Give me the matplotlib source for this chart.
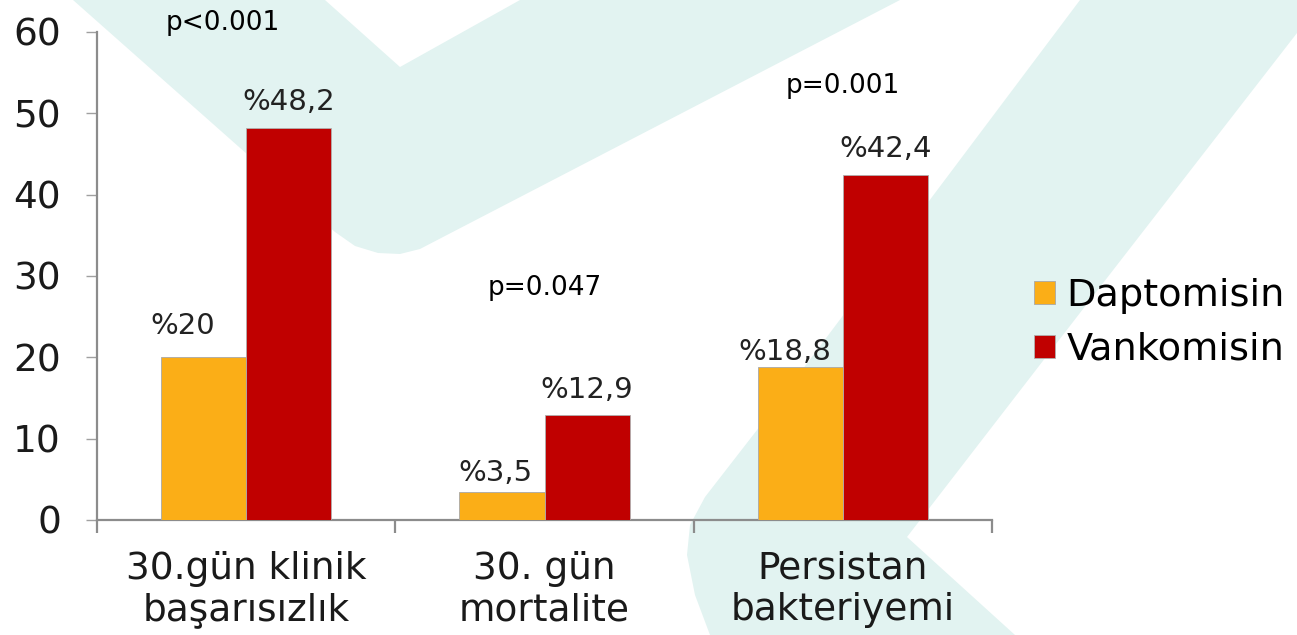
import numpy as np
import matplotlib.pyplot as plt
from matplotlib.patches import Polygon

# Veriler
kategoriler = ['30.gün klinik\nbaşarısızlık', '30. gün\nmortalite', 'Persistan\nbakteriyemi']
daptomisin = [20, 3.5, 18.8]
vankomisin = [48.2, 12.9, 42.4]
dapto_etiket = ['%20', '%3,5', '%18,8']
vanko_etiket = ['%48,2', '%12,9', '%42,4']
p_degerleri = ['p<0.001', 'p=0.047', 'p=0.001']

# p değerlerinin yerleri (veri koordinatı) ve etiket kaydırmaları (piksel)
p_konum = [(0.42, 61.1), (1.50, 28.5), (2.50, 53.3)]
dapto_kaydir = [(-21, 31), (-6, 19), (-15, 15)]
vanko_kaydir = [(0, 26), (0, 25), (0, 26)]

W, H = 1297, 635
plt.rcParams['font.family'] = ['DejaVu Sans']
fig = plt.figure(figsize=(W / 100, H / 100), dpi=100)


def px(noktalar):
    return [(x / W, 1 - y / H) for x, y in noktalar]


# arka plandaki açık turkuaz logo
zemin = '#e2f3f1'
v_sekli = [(73, 0), (335, 232), (355, 246), (378, 253), (400, 254), (420, 249),
           (445, 236), (900, 0), (520, 0), (400, 67), (325, 0)]
k_sekli = [(1080, 0), (757, 430), (705, 497), (690, 525), (687, 555), (695, 595),
           (710, 635), (1015, 635), (907, 537), (1100, 287), (1297, 33), (1297, 0)]
for s in (v_sekli, k_sekli):
    fig.patches.append(Polygon(px(s), closed=True, transform=fig.transFigure,
                               facecolor=zemin, edgecolor='none', zorder=-1))

ax = fig.add_axes([97 / W, 1 - 520 / H, (992 - 97) / W, (520 - 32) / H])
ax.set_facecolor('none')

x = np.arange(len(kategoriler)) + 0.5
w = 0.286
b1 = ax.bar(x - w / 2, daptomisin, w, color='#FBAE17', edgecolor='#a8a8a8',
            linewidth=0.6, label='Daptomisin', zorder=3)
b2 = ax.bar(x + w / 2, vankomisin, w, color='#C00000', edgecolor='#b0b0b0',
            linewidth=0.6, label='Vankomisin', zorder=3)

# çubuk üstü yüzde etiketleri
for cubuklar, etiketler, kaydir in ((b1, dapto_etiket, dapto_kaydir),
                                    (b2, vanko_etiket, vanko_kaydir)):
    for c, e, (dx, dy) in zip(cubuklar, etiketler, kaydir):
        ax.annotate(e, (c.get_x() + c.get_width() / 2, c.get_height()),
                    xytext=(dx * 0.72, dy * 0.72), textcoords='offset points',
                    ha='center', va='center', fontsize=21, color='#222222')

for (px_, py_), p in zip(p_konum, p_degerleri):
    ax.text(px_, py_, p, ha='center', va='center', fontsize=19, color='black',
            clip_on=False)

ax.set_xlim(0, 3)
ax.set_ylim(0, 60)
for k in ['top', 'right']:
    ax.spines[k].set_visible(False)
for k in ['left', 'bottom']:
    ax.spines[k].set_color('#8c8c8c')
    ax.spines[k].set_linewidth(1.6)

ax.set_yticks(range(0, 61, 10))
ax.tick_params(axis='y', length=8, width=1, color='#a0a0a0', labelsize=27,
               pad=18, labelcolor='#1a1a1a')

ax.set_xticks([0, 1, 2, 3])
ax.set_xticklabels([])
ax.set_xticks(x, minor=True)
ax.set_xticklabels(kategoriler, minor=True, fontsize=27, linespacing=1.2,
                   color='#1a1a1a')
ax.tick_params(axis='x', which='major', length=9, width=1.6, color='#8c8c8c')
ax.tick_params(axis='x', which='minor', length=0, pad=22)

ax.legend(loc='center left', bbox_to_anchor=(1034 / W, 1 - 323 / H),
          bbox_transform=fig.transFigure, frameon=False, fontsize=27.5,
          handlelength=0.55, handleheight=0.55, handletextpad=0.3,
          labelspacing=0.45, borderpad=0, borderaxespad=0)

plt.savefig('out.png', dpi=100)
